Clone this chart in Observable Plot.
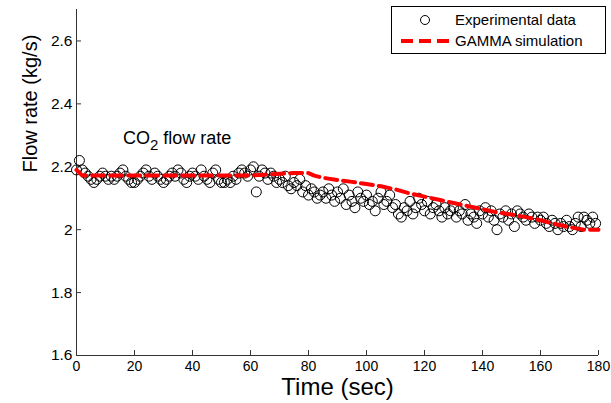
<!DOCTYPE html>
<html><head><meta charset="utf-8">
<script src="https://cdn.jsdelivr.net/npm/d3@7"></script>
<script src="https://cdn.jsdelivr.net/npm/@observablehq/plot@0.6"></script>
<style>
body{margin:0;background:#fff;}
#chart svg{display:block;}
</style></head><body><div id="chart"></div>
<script>
// Experimental data: one sample per second, t = 0..179 s
const expFlow = [
  2.19,2.22,2.19,2.18,2.17,2.16,2.15,2.16,2.17,2.18,
  2.17,2.16,2.17,2.16,2.17,2.18,2.19,2.17,2.16,2.15,
  2.15,2.16,2.17,2.18,2.19,2.17,2.16,2.18,2.17,2.16,
  2.15,2.16,2.17,2.18,2.17,2.19,2.18,2.16,2.15,2.17,
  2.18,2.17,2.16,2.19,2.17,2.16,2.15,2.18,2.19,2.16,
  2.15,2.15,2.16,2.15,2.17,2.16,2.18,2.19,2.18,2.17,
  2.19,2.20,2.12,2.17,2.19,2.18,2.16,2.18,2.17,2.15,
  2.16,2.15,2.17,2.14,2.13,2.15,2.14,2.16,2.12,2.14,
  2.11,2.13,2.12,2.10,2.11,2.12,2.10,2.13,2.11,2.09,
  2.12,2.10,2.13,2.08,2.11,2.09,2.07,2.12,2.10,2.09,
  2.11,2.08,2.09,2.06,2.10,2.12,2.08,2.09,2.11,2.07,
  2.08,2.05,2.04,2.07,2.06,2.09,2.05,2.07,2.10,2.08,
  2.06,2.09,2.05,2.07,2.08,2.06,2.04,2.07,2.05,2.06,
  2.07,2.04,2.06,2.05,2.08,2.03,2.05,2.04,2.02,2.06,
  2.05,2.07,2.04,2.06,2.03,2.00,2.05,2.04,2.06,2.03,
  2.05,2.01,2.06,2.05,2.04,2.03,2.05,2.04,2.02,2.04,
  2.03,2.04,2.02,2.01,2.03,2.02,2.00,2.02,2.01,2.03,
  2.01,2.00,2.02,2.04,2.01,2.04,2.03,2.02,2.04,2.02
];
const expTime = expFlow.map((_, i) => i);

// GAMMA simulation
const simTime = [0,2,10,20,30,40,50,60,65,70,75,80,82,85,90,95,100,105,110,115,120,125,130,135,140,145,150,155,160,165,170,175,180];
const simFlow = [2.19,2.172,2.172,2.172,2.172,2.172,2.172,2.172,2.175,2.178,2.18,2.18,2.172,2.165,2.158,2.152,2.145,2.138,2.128,2.115,2.105,2.095,2.085,2.075,2.065,2.055,2.048,2.04,2.03,2.018,2.008,2.0,2.0];

const xTicks = [0,20,40,60,80,100,120,140,160,180];
const yTicks = [1.6,1.8,2.0,2.2,2.4,2.6];

const expData = expTime.map((t, i) => ({t, v: expFlow[i]}));
const simData = simTime.map((t, i) => ({t, v: simFlow[i]}));

const FONT = "'Liberation Sans', Arial, sans-serif";

const chart = Plot.plot({
  width: 611, height: 403,
  marginLeft: 76, marginRight: 13, marginTop: 9, marginBottom: 48,
  style: {fontFamily: FONT, color: "#000", background: "#fff", overflow: "visible"},
  x: {domain: [0, 180], label: null},
  y: {domain: [1.6, 2.7], label: null},
  marks: [
    Plot.axisX({ticks: xTicks, tickSize: 0, tickPadding: 6, fontSize: 14, tickFormat: d => String(d)}),
    Plot.axisX({ticks: xTicks, tickSize: -5, text: null, stroke: "#333"}),
    Plot.axisY({ticks: yTicks, tickSize: 0, tickPadding: 4, fontSize: 15.5, tickFormat: d => String(+d.toFixed(1))}),
    Plot.axisY({ticks: yTicks, tickSize: -5, text: null, stroke: "#333"}),
    Plot.ruleX([0], {stroke: "#333"}),
    Plot.ruleY([1.6], {stroke: "#333"}),
    Plot.dot(expData, {x: "t", y: "v", r: 5, stroke: "#000", strokeWidth: 1, fill: "none"}),
    Plot.line(simData, {x: "t", y: "v", stroke: "#ff0000", strokeWidth: 4, strokeDasharray: "12,6"}),
    Plot.text(["CO2 flow rate"], {x: 16, y: 2.29, textAnchor: "start", fontSize: 18, fill: "#000", className: "co2label"}),
    Plot.text(["Time (sec)"], {frameAnchor: "bottom", lineAnchor: "middle", dy: 32, fontSize: 24, fill: "#000"}),
    Plot.text(["Flow rate (kg/s)"], {frameAnchor: "left", lineAnchor: "middle", dx: -46, dy: -10, rotate: -90, fontSize: 20, fill: "#000"})
  ]
});

document.getElementById("chart").appendChild(chart);

// Subscript for CO2
const svg = d3.select(chart);
svg.selectAll(".co2label text").each(function() {
  const t = d3.select(this);
  t.text(null);
  t.append("tspan").text("CO");
  t.append("tspan").attr("dy", 6).attr("font-size", 15).text("2");
  t.append("tspan").attr("dy", -6).text(" flow rate");
});

// Legend (inside plot, top-right)
const lg = svg.append("g")
  .style("font-family", FONT).style("font-size", "15px").style("text-anchor", "start");
lg.append("rect").attr("x", 391.5).attr("y", 6.5).attr("width", 214).attr("height", 47)
  .attr("fill", "#fff").attr("stroke", "#000").attr("stroke-width", 1);
lg.append("circle").attr("cx", 425).attr("cy", 20).attr("r", 4.5)
  .attr("fill", "none").attr("stroke", "#000");
lg.append("text").attr("x", 455).attr("y", 20).attr("dy", "0.35em").attr("text-anchor", "start").text("Experimental data");
lg.append("line").attr("x1", 401).attr("x2", 449).attr("y1", 41).attr("y2", 41)
  .attr("stroke", "#ff0000").attr("stroke-width", 4).attr("stroke-dasharray", "12,6");
lg.append("text").attr("x", 455).attr("y", 41).attr("dy", "0.35em").attr("text-anchor", "start").text("GAMMA simulation");
</script>
</body></html>
